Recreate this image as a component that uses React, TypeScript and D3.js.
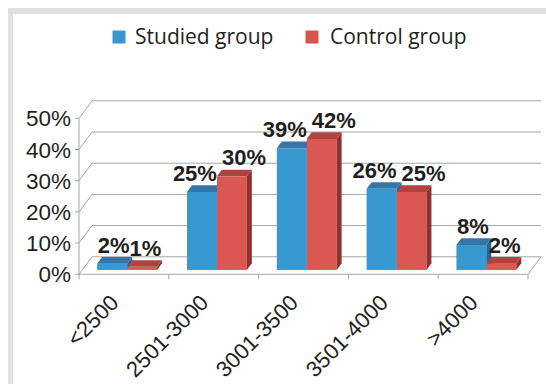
import React from "react";
import * as d3 from "d3";

// Birth-weight groups (grams) and share of each group
const categories = ["<2500", "2501-3000", "3001-3500", "3501-4000", ">4000"];
const seriesNames = ["Studied group", "Control group"];
const studiedValues = [2, 25, 39, 26, 8];
const controlValues = [1, 30, 42, 25, 2];
const yTicks = [0, 10, 20, 30, 40, 50];

const W = 546;
const H = 384;

// front plane of the 3D box
const plotLeft = 79;
const plotRight = 528;
const yBottom = 274.3;
const yTop = 118.3;
// depth vector of the floor (full depth)
const DX = 13;
const DY = 17.5;
// bars occupy this slice of the depth
const Z0 = 0.25;
const Z1 = 0.63;

const palette = [
  { front: "#3898d0", top: "#3575a8", side: "#2a6594", legend: "#3a97cd" },
  { front: "#da5752", top: "#b0433f", side: "#8c3230", legend: "#d9534f" },
];

const gridColor = "#a6a6a6";
const textColor = "#231f20";

function textWidth(s: string, size: number) {
  let w = 0;
  for (const ch of s) w += ch === "%" ? 0.889 : 0.556;
  return w * size;
}

export default function App() {
  const x = d3.scaleBand<string>().domain(categories).range([plotLeft, plotRight]).paddingInner(0).paddingOuter(0);
  const xs = d3.scaleBand<string>().domain(seriesNames).range([0, x.bandwidth()]).paddingInner(0).paddingOuter(0.5);
  const y = d3.scaleLinear().domain([0, 50]).range([yBottom, yTop]);

  const series = [studiedValues, controlValues];
  const ddx = (Z1 - Z0) * DX;
  const ddy = (Z1 - Z0) * DY;

  const bars: any[] = [];
  const labels: any[] = [];
  const labelSize = 22;

  categories.forEach((c, i) => {
    const groupLabels: any[] = [];
    series.forEach((vals, s) => {
      const v = vals[i];
      const xl = (x(c) as number) + (xs(seriesNames[s]) as number) + Z0 * DX;
      const xr = xl + xs.bandwidth();
      const yb = y(0) - Z0 * DY;
      const yt = y(v) - Z0 * DY;
      bars.push({ key: `${c}-${s}`, s, xl, xr, yb, yt });
      const text = `${v}%`;
      groupLabels.push({ key: `l-${c}-${s}`, text, cx: (xl + xr) / 2 + ddx / 2, y: yt - 11, w: textWidth(text, labelSize) });
    });
    // push the pair of labels apart when they collide
    const [a, b] = groupLabels;
    const overlap = a.cx + a.w / 2 - (b.cx - b.w / 2);
    if (overlap > 0) {
      const shift = overlap + (overlap > 5 ? 5 : 0);
      a.cx -= shift / 2;
      b.cx += shift / 2;
    }
    labels.push(...groupLabels);
  });

  const pts = (p: number[][]) => p.map((q) => q.join(",")).join(" ");

  return (
    <div style={{ position: "absolute", left: 0, top: 0 }}>
      <svg width={W} height={H} style={{ display: "block", background: "#fff" }}>
        {/* frame */}
        <rect x={8} y={8} width={W - 8} height={6} fill="#e1e1e1" />
        <rect x={8} y={8} width={5} height={H - 8} fill="#e1e1e1" />

        {/* legend */}
        <g fontFamily="'Open Sans', 'Noto Sans', sans-serif" fontSize={21} fill="#231f20">
          <rect x={112.5} y={30.5} width={13} height={13} fill={palette[0].legend} />
          <text x={135} y={43.5}>{seriesNames[0]}</text>
          <rect x={305.5} y={30.5} width={13} height={13} fill={palette[1].legend} />
          <text x={330} y={43.5}>{seriesNames[1]}</text>
        </g>

        {/* walls: back gridlines and side diagonals */}
        <g stroke={gridColor} strokeWidth={1} fill="none">
          {yTicks.map((t) => (
            <g key={t}>
              <line x1={plotLeft} y1={y(t)} x2={plotLeft + DX} y2={y(t) - DY} />
              <line x1={plotLeft + DX} y1={y(t) - DY} x2={plotRight + DX} y2={y(t) - DY} />
              <line x1={plotLeft - 4} y1={y(t)} x2={plotLeft} y2={y(t)} />
            </g>
          ))}
          <line x1={plotLeft} y1={y(0)} x2={plotLeft} y2={y(50)} />
          <line x1={plotLeft} y1={y(0)} x2={plotRight} y2={y(0)} />
          <line x1={plotRight} y1={y(0)} x2={plotRight + DX} y2={y(0) - DY} />
          {categories.concat(["end"]).map((c, i) => {
            const xx = plotLeft + i * x.step();
            return <line key={c} x1={xx} y1={y(0)} x2={xx} y2={y(0) + 5} />;
          })}
        </g>

        {/* y axis labels */}
        <g fontFamily="'Liberation Sans', Arial, sans-serif" fontSize={22.5} fill={textColor} textAnchor="end">
          {yTicks.map((t) => (
            <text key={t} x={71} y={y(t)} dy="0.36em">{`${t}%`}</text>
          ))}
        </g>

        {/* bars */}
        {bars.map((b) => (
          <g key={b.key}>
            <rect x={b.xl} y={b.yt} width={b.xr - b.xl} height={b.yb - b.yt} fill={palette[b.s].front} />
            <polygon
              points={pts([[b.xl, b.yt], [b.xr, b.yt], [b.xr + ddx, b.yt - ddy], [b.xl + ddx, b.yt - ddy]])}
              fill={palette[b.s].top}
            />
            <polygon
              points={pts([[b.xr, b.yt], [b.xr + ddx, b.yt - ddy], [b.xr + ddx, b.yb - ddy], [b.xr, b.yb]])}
              fill={palette[b.s].side}
            />
          </g>
        ))}

        {/* value labels */}
        <g fontFamily="'Liberation Sans', Arial, sans-serif" fontSize={labelSize} fontWeight="bold" fill={textColor} textAnchor="middle">
          {labels.map((l) => (
            <text key={l.key} x={l.cx} y={l.y}>{l.text}</text>
          ))}
        </g>

        {/* category labels */}
        <g fontFamily="'Liberation Sans', Arial, sans-serif" fontSize={22} fill={textColor} textAnchor="end">
          {categories.map((c) => {
            const cx = (x(c) as number) + x.bandwidth() / 2 - 4;
            const cy = 304;
            return (
              <text key={c} x={cx} y={cy} transform={`rotate(-45 ${cx} ${cy})`}>{c}</text>
            );
          })}
        </g>
      </svg>
    </div>
  );
}
